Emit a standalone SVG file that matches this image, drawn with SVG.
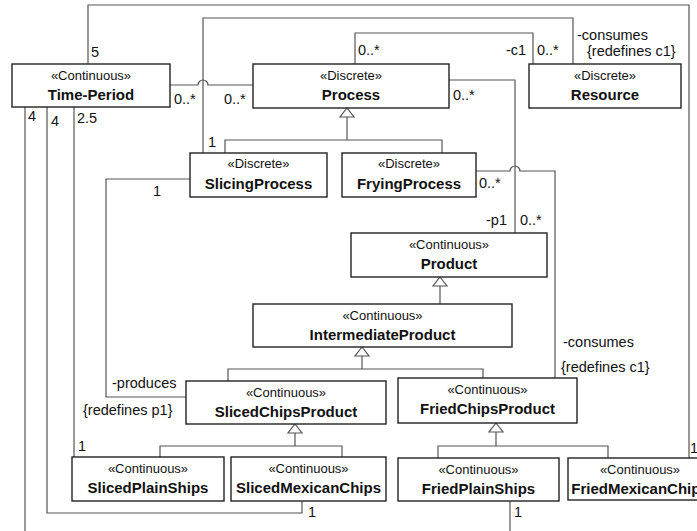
<svg xmlns="http://www.w3.org/2000/svg" width="697" height="531" viewBox="0 0 697 531">
<style>
.box{fill:#fff;stroke:#222;stroke-width:1.4}
.st{font-family:"Liberation Sans",Arial,sans-serif;font-size:13px;fill:#111;text-anchor:middle}
.nm{font-family:"Liberation Sans",Arial,sans-serif;font-size:15px;font-weight:bold;fill:#111;text-anchor:middle}
.lb{font-family:"Liberation Sans",Arial,sans-serif;font-size:14.5px;fill:#111}
.ln{fill:none;stroke:#555;stroke-width:1.2}
.tri{fill:#fff;stroke:#555;stroke-width:1.2}
</style>
<rect width="697" height="531" fill="#fff"/>
<g id="connectors">
<path class="ln" d="M88 64 V5 H689 V458"/>
<path class="ln" d="M203 153 V18 H573 V64"/>
<path class="ln" d="M170 85 H198 A5 5 0 0 1 208 85 H253"/>
<path class="ln" d="M355 64 V33 H533 V64"/>
<path class="ln" d="M449 80 H515 V233"/>
<path class="ln" d="M476 171 H510 A5 5 0 0 1 520 171 H555 V378"/>
<path class="ln" d="M190 179 H106 V397 H186"/>
<path class="ln" d="M25 107 V531"/>
<path class="ln" d="M47 107 V513 H302 V501"/>
<path class="ln" d="M74 107 V457"/>
<path class="ln" d="M510 501 V531"/>
<path class="ln" d="M347 117 V140 M225 153 V140 H442 V153"/>
<path class="tri" d="M347 108 L354 117 H340 Z"/>
<path class="ln" d="M440 286 V304"/>
<path class="tri" d="M440 277 L447 286 H433 Z"/>
<path class="ln" d="M362 356 V369 M228 381 V369 H483 V378"/>
<path class="tri" d="M362 347 L369 356 H355 Z"/>
<path class="ln" d="M295 433 V446 M160 457 V446 H342 V457"/>
<path class="tri" d="M295 424 L302 433 H288 Z"/>
<path class="ln" d="M496 432 V446 M438 458 V446 H608 V458"/>
<path class="tri" d="M496 423 L503 432 H489 Z"/>
<text class="lb" x="91" y="57">5</text>
<text class="lb" x="174" y="104">0..*</text>
<text class="lb" x="224" y="104">0..*</text>
<text class="lb" x="28" y="121">4</text>
<text class="lb" x="51" y="126">4</text>
<text class="lb" x="77" y="123">2.5</text>
<text class="lb" x="208" y="147">1</text>
<text class="lb" x="153" y="196">1</text>
<text class="lb" x="358" y="55">0..*</text>
<text class="lb" x="506" y="55">-c1</text>
<text class="lb" x="537" y="55">0..*</text>
<text class="lb" x="577" y="40">-consumes</text>
<text class="lb" x="587" y="56">{redefines c1}</text>
<text class="lb" x="453" y="100">0..*</text>
<text class="lb" x="479" y="188">0..*</text>
<text class="lb" x="486" y="225">-p1</text>
<text class="lb" x="520" y="225">0..*</text>
<text class="lb" x="563" y="347">-consumes</text>
<text class="lb" x="561" y="372">{redefines c1}</text>
<text class="lb" x="112" y="388">-produces</text>
<text class="lb" x="83" y="415">{redefines p1}</text>
<text class="lb" x="78" y="451">1</text>
<text class="lb" x="308" y="517">1</text>
<text class="lb" x="514" y="517">1</text>
<text class="lb" x="690" y="453">1</text>
</g>
<g id="time-period"><rect class="box" x="12" y="64" width="158" height="43"/><text class="st" x="91" y="80">«Continuous»</text><text class="nm" x="91" y="100">Time-Period</text></g>
<g id="process"><rect class="box" x="253" y="64" width="196" height="44"/><text class="st" x="351" y="80">«Discrete»</text><text class="nm" x="351" y="100">Process</text></g>
<g id="resource"><rect class="box" x="529" y="64" width="152" height="44"/><text class="st" x="605" y="80">«Discrete»</text><text class="nm" x="605" y="100">Resource</text></g>
<g id="slicing-process"><rect class="box" x="190" y="153" width="137" height="44"/><text class="st" x="258.5" y="168">«Discrete»</text><text class="nm" x="258.5" y="189">SlicingProcess</text></g>
<g id="frying-process"><rect class="box" x="342" y="153" width="134" height="44"/><text class="st" x="409" y="168">«Discrete»</text><text class="nm" x="409" y="189">FryingProcess</text></g>
<g id="product"><rect class="box" x="351" y="233" width="196" height="44"/><text class="st" x="449" y="249">«Continuous»</text><text class="nm" x="449" y="269">Product</text></g>
<g id="intermediate-product"><rect class="box" x="253" y="304" width="259" height="43"/><text class="st" x="382.5" y="320">«Continuous»</text><text class="nm" x="382.5" y="340">IntermediateProduct</text></g>
<g id="sliced-chips-product"><rect class="box" x="186" y="381" width="200" height="43"/><text class="st" x="286" y="397">«Continuous»</text><text class="nm" x="286" y="417">SlicedChipsProduct</text></g>
<g id="fried-chips-product"><rect class="box" x="398" y="378" width="179" height="45"/><text class="st" x="487.5" y="394">«Continuous»</text><text class="nm" x="487.5" y="414">FriedChipsProduct</text></g>
<g id="sliced-plain-ships"><rect class="box" x="72" y="457" width="152" height="44"/><text class="st" x="148" y="473">«Continuous»</text><text class="nm" x="148" y="493">SlicedPlainShips</text></g>
<g id="sliced-mexican-chips"><rect class="box" x="231" y="457" width="155" height="44"/><text class="st" x="308.5" y="473">«Continuous»</text><text class="nm" x="308.5" y="493">SlicedMexicanChips</text></g>
<g id="fried-plain-ships"><rect class="box" x="398" y="458" width="161" height="43"/><text class="st" x="478.5" y="474">«Continuous»</text><text class="nm" x="478.5" y="494">FriedPlainShips</text></g>
<g id="fried-mexican-chips"><rect class="box" x="568" y="458" width="144" height="42"/><text class="st" x="640" y="474">«Continuous»</text><text class="nm" x="640" y="494">FriedMexicanChips</text></g>
</svg>
